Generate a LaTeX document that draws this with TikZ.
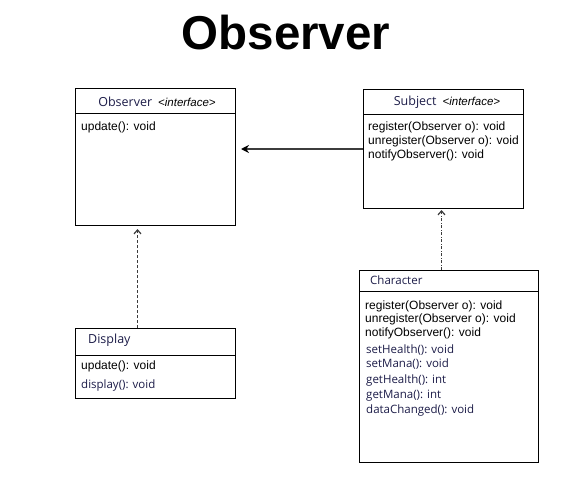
\documentclass[tikz,border=0pt]{standalone}
\usepackage{fontspec}
\setmainfont{Liberation Sans}
\newfontfamily\segfont{Open Sans}
\usetikzlibrary{arrows.meta}
\definecolor{navy}{RGB}{28,28,72}
\definecolor{linegray}{RGB}{60,60,60}
\tikzset{
  umlbox/.style={draw=black, line width=1pt, inner sep=0pt, anchor=north west},
  divider/.style={draw=black, line width=1pt},
  hdr/.style={inner sep=0pt, anchor=center, text=navy},
  member/.style={inner sep=0pt, anchor=mid west, font=\fontsize{12}{14}\selectfont},
  segmember/.style={inner sep=0pt, anchor=mid west, text=navy, font=\segfont\fontsize{11.5}{13}\selectfont},
  realize/.style={draw=linegray, line width=1.2pt, dash pattern=on 3pt off 2pt, -{Straight Barb[length=4pt, width=7pt]}},
  realizedot/.style={draw=linegray, line width=1.2pt, dash pattern=on 3pt off 1.5pt on 1pt off 1.5pt, -{Straight Barb[length=4pt, width=7pt]}},
  assoc/.style={draw=linegray, line width=1.3pt, -{Stealth[length=8pt, width=8pt, black]}}
}
\begin{document}
\begin{tikzpicture}[x=1pt, y=-1pt]
\useasboundingbox (0,0) rectangle (588,484);
\node[font=\fontsize{47.5}{48}\selectfont\bfseries] (title) at (286,33) {Observer};

% Observer interface
\node[umlbox, minimum width=160pt, minimum height=137pt] (observer) at (75,88) {};
\draw[divider] ([yshift=-25pt]observer.north west) -- ([yshift=-25pt]observer.north east);
\node[hdr] (obshdr) at (157,102) {{\segfont\fontsize{12.5}{14}\selectfont Observer}\hspace{6pt}{\fontsize{11.5}{12}\selectfont\color{black}\itshape <interface>}};
\node[member] (obsm1) at (81,128) {update(): void};

% Subject interface
\node[umlbox, minimum width=160pt, minimum height=119pt] (subject) at (363,89) {};
\draw[divider] ([yshift=-25pt]subject.north west) -- ([yshift=-25pt]subject.north east);
\node[hdr] (subhdr) at (447,102) {{\segfont\fontsize{12.5}{14}\selectfont Subject}\hspace{6pt}{\fontsize{11.5}{12}\selectfont\color{black}\itshape <interface>}};
\node[member] (subm1) at (368,128) {register(Observer o): void};
\node[member] (subm2) at (368,142) {unregister(Observer o): void};
\node[member] (subm3) at (368,156) {notifyObserver(): void};

% Display
\node[umlbox, minimum width=160pt, minimum height=70pt] (display) at (75,328) {};
\draw[divider] ([yshift=-27pt]display.north west) -- ([yshift=-27pt]display.north east);
\node[hdr, anchor=mid west] (dishdr) at (88,341) {\segfont\fontsize{12.5}{14}\selectfont Display};
\node[member] (dism1) at (81,367) {update(): void};
\node[segmember] (dism2) at (81,386) {display(): void};

% Character
\node[umlbox, minimum width=179pt, minimum height=192pt] (character) at (359,270) {};
\draw[divider] ([yshift=-21pt]character.north west) -- ([yshift=-21pt]character.north east);
\node[hdr, anchor=mid west] (chahdr) at (370,282) {\segfont\fontsize{11.5}{13}\selectfont Character};
\node[member] (cham1) at (365,307) {register(Observer o): void};
\node[member] (cham2) at (365,320) {unregister(Observer o): void};
\node[member] (cham3) at (365,334) {notifyObserver(): void};
\node[segmember] (cham4) at (366,351) {setHealth(): void};
\node[segmember] (cham5) at (366,365) {setMana(): void};
\node[segmember] (cham6) at (366,381) {getHealth(): int};
\node[segmember] (cham7) at (366,396) {getMana(): int};
\node[segmember] (cham8) at (366,411) {dataChanged(): void};

% connectors
\draw[assoc, shorten >=5pt] (subject.west) -- (subject.west -| observer.east);
\draw[realize, shorten >=3pt] ([xshift=-18pt]display.north) -- ([xshift=-18pt]display.north |- observer.south);
\draw[realizedot, shorten >=1pt] ([xshift=-2pt]subject.south |- character.north) -- ([xshift=-2pt]subject.south);
\end{tikzpicture}
\end{document}
